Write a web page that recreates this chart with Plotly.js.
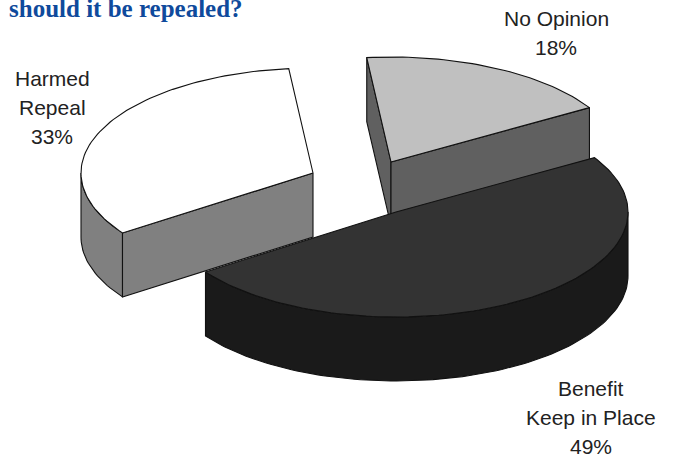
<!DOCTYPE html>
<html>
<head>
<meta charset="utf-8">
<title>Should it be repealed?</title>
<script src="https://cdn.plot.ly/plotly-3.0.1.min.js"></script>
<style>html,body{margin:0;padding:0;background:#fff}#chart{width:673px;height:458px}</style>
</head>
<body>
<div id="chart"></div>
<script>
// Survey shares
const categories = ["No Opinion", "Benefit", "Harmed"];
const subLabels = ["", "Keep in Place", "Repeal"];
const values = [18, 49, 33];
const heading = "should it be repealed?";

// Styling per slice: top face, side face
const topColors = ["#c0c0c0", "#333333", "#ffffff"];
const sideColors = ["#606060", "#1a1a1a", "#808080"];

// Projection of the tilted disc, in plot units (1 unit = 1 px)
const RX = 232, RY = 105, DEPTH = 64, START_DEG = 96;
const sliceCentres = [[391, 162], [396, 212], [313, 173]];
// Anchor of the first text line for each slice, and the line spacing
const labelAnchors = [[556, 18], [591, 388], [52, 78]];
const LINE_STEP = 29;

const rad = d => d * Math.PI / 180;
const onRim = (c, deg, drop = 0) => [c[0] + RX * Math.cos(rad(deg)), c[1] - RY * Math.sin(rad(deg)) + drop];

function arc(c, from, to, drop = 0) {
  const n = Math.max(2, Math.ceil(Math.abs(to - from) / 1.5));
  const pts = [];
  for (let i = 0; i <= n; i++) pts.push(onRim(c, from + (to - from) * i / n, drop));
  return pts;
}

function face(points, fill) {
  const closed = points.concat([points[0]]);
  return {
    type: "scatter", mode: "lines", fill: "toself", fillcolor: fill,
    x: closed.map(p => p[0]), y: closed.map(p => p[1]),
    line: {color: "#111111", width: 1.1}, hoverinfo: "skip", showlegend: false
  };
}

// Extruded wall between two rim angles
const rimWall = (c, a, b) => arc(c, a, b).concat(arc(c, b, a, DEPTH));
// Extruded wall along a radius
const cutWall = (c, deg) => {
  const p = onRim(c, deg);
  return [c, p, [p[0], p[1] + DEPTH], [c[0], c[1] + DEPTH]];
};

// Slice angles run clockwise from START_DEG
let cursor = START_DEG;
const spans = values.map(v => {
  const s = [cursor, cursor - v * 3.6];
  cursor = s[1];
  return s;
});
const [noOp, benefit, harmed] = spans;

// Drawn back to front: Harmed, No Opinion, Benefit
const traces = [
  face(rimWall(sliceCentres[2], -180, harmed[0]), sideColors[2]),
  face(cutWall(sliceCentres[2], harmed[0]), sideColors[2]),
  face([sliceCentres[2]].concat(arc(sliceCentres[2], harmed[0], harmed[1])), topColors[2]),

  face(cutWall(sliceCentres[0], noOp[0]), sideColors[0]),
  face(cutWall(sliceCentres[0], noOp[1]), sideColors[0]),
  face([sliceCentres[0]].concat(arc(sliceCentres[0], noOp[0], noOp[1])), topColors[0]),

  face(rimWall(sliceCentres[1], 0, benefit[1]), sideColors[1]),
  face([sliceCentres[1]].concat(arc(sliceCentres[1], benefit[0], benefit[1])), topColors[1])
];

// Each label is stacked line by line so the spacing stays wide
const annotations = [];
categories.forEach((name, i) => {
  const lines = [name, subLabels[i], values[i] + "%"].filter(Boolean);
  lines.forEach((t, k) => annotations.push({
    x: labelAnchors[i][0], y: labelAnchors[i][1] + k * LINE_STEP,
    xref: "x", yref: "y", text: t, showarrow: false,
    xanchor: "center", yanchor: "middle",
    font: {family: "Liberation Sans, Arial, sans-serif", size: 21, color: "#222222"}
  }));
});
annotations.push({
  x: 7, y: 8, xref: "x", yref: "y", text: "<b>" + heading + "</b>", showarrow: false,
  xanchor: "left", yanchor: "middle",
  font: {family: "Liberation Serif, Times New Roman, serif", size: 25, color: "#0f4a9c"}
});

const hidden = {visible: false, fixedrange: true};
Plotly.newPlot("chart", traces, {
  width: 673, height: 458,
  margin: {l: 0, r: 0, t: 0, b: 0},
  paper_bgcolor: "#ffffff", plot_bgcolor: "#ffffff",
  xaxis: Object.assign({range: [0, 673]}, hidden),
  yaxis: Object.assign({range: [458, 0]}, hidden),
  annotations, showlegend: false, hovermode: false
}, {displayModeBar: false, staticPlot: true});
</script>
</body>
</html>
